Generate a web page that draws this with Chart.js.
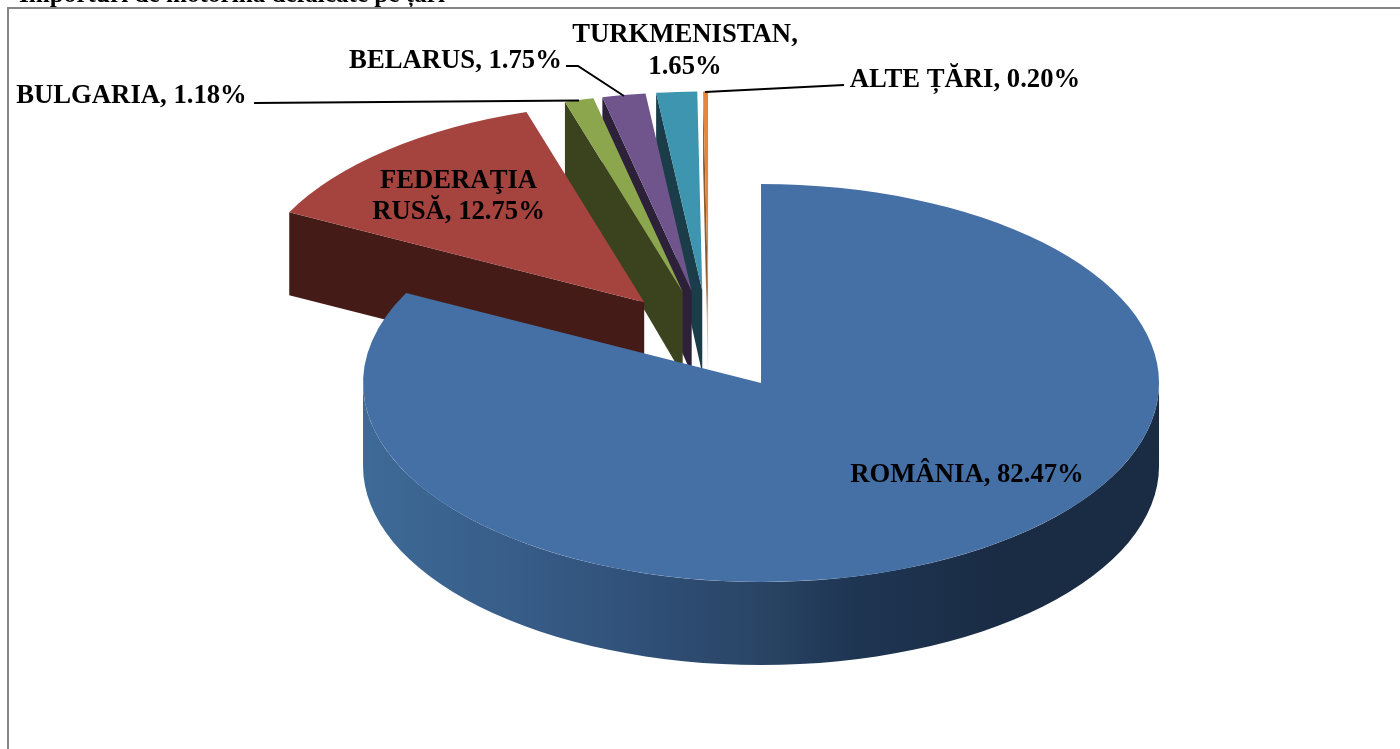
<!DOCTYPE html>
<html><head><meta charset="utf-8">
<style>html,body{margin:0;padding:0;background:#fff;overflow:hidden}canvas{display:block}</style>
<script src="https://cdn.jsdelivr.net/npm/chart.js@4"></script>
</head><body><canvas id="c" width="1400" height="749"></canvas>
<script>
const countries = ['ROMÂNIA','FEDERAŢIA RUSĂ','BULGARIA','BELARUS','TURKMENISTAN','ALTE ȚĂRI'];
const shares = [82.47,12.75,1.18,1.75,1.65,0.20];
const topColors = ['#4570A6','#A5433F','#8CA64E','#70548C','#3E95B0','#E2873C'];
const wallColors = ['#1A2C44','#451B17','#3A431D','#2D2039','#1B3D49','#8F5A2D'];
const blueWallStops = [[0,'#3E6A97'],[0.2,'#375C87'],[0.36,'#2F4F77'],[0.49,'#2A4566'],[0.62,'#1E3552'],[0.8,'#1A2C44'],[1,'#1A2C44']];
const titleText = 'Importuri de motorină defalcate pe țări';
const FONT = 'bold 26.7px "Liberation Serif"';
const TITLE_FONT = 'bold 25.2px "Liberation Serif"';
const EXPLODE = 100, SQUASH = 0.5, PIE_R = 398;
// label text layout: lines, x anchor (centre), baseline
const labelLayout = [
  {i:0, cx:967, ys:[482]},
  {i:1, split:true, cx:458.5, ys:[188,219]},
  {i:2, cx:131.5, ys:[103]},
  {i:3, cx:455.5, ys:[68]},
  {i:4, wrap:true, cx:685, ys:[42,74]},
  {i:5, cx:965, ys:[87]}
];
const leaders = [
  [[254,103],[579,100.5]],
  [[566,66],[578,66],[624,96]],
  [[844,85],[705,92]]
];
function depthAt(y){ return Math.min(83, 73 + Math.max(0,y-102)/11); }
const pie3d = {
  id:'pie3d',
  beforeDraw(chart){
    const ctx = chart.ctx;
    ctx.save();
    ctx.fillStyle='#fff'; ctx.fillRect(0,0,chart.width,chart.height);
    ctx.font=TITLE_FONT; ctx.fillStyle='#000'; ctx.textBaseline='alphabetic';
    ctx.fillText(titleText,19,1.5);
    ctx.strokeStyle='#868686'; ctx.lineWidth=2;
    ctx.beginPath(); ctx.moveTo(8,chart.height+2); ctx.lineTo(8,8); ctx.lineTo(chart.width+2,8); ctx.stroke();
    ctx.restore();
  },
  beforeDatasetsDraw(chart){
    const ctx = chart.ctx, arcs = chart.getDatasetMeta(0).data;
    for(let k=arcs.length-1;k>=0;k--){
      const el = arcs[k], a0=el.startAngle, a1=el.endAngle, mid=(a0+a1)/2, r=el.outerRadius;
      const ox = el.x + EXPLODE*Math.cos(mid), oy = el.y + SQUASH*EXPLODE*Math.sin(mid);
      ctx.save();
      ctx.fillStyle = wallColors[k];
      // radial wall at the start edge, visible when it faces the viewer
      if(Math.cos(a0) < -1e-6 && Math.sin(a0) < 1e-6 ){
        const px = ox + r*Math.cos(a0), py = oy + SQUASH*r*Math.sin(a0);
        if(k===arcs.length-1){
          const f = ctx.createLinearGradient(0,oy-20,0,oy+30);
          f.addColorStop(0,wallColors[k]); f.addColorStop(1,'#D0C4B8');
          ctx.fillStyle = f;
        }
        ctx.beginPath();
        ctx.moveTo(px,py); ctx.lineTo(ox,oy); ctx.lineTo(ox,oy+depthAt(oy)); ctx.lineTo(px,py+depthAt(py));
        ctx.closePath(); ctx.fill();
      }
      // rim wall along the front half of the ellipse
      const lo = Math.max(a0,0), hi = Math.min(a1,Math.PI);
      if(hi>lo){
        const d = depthAt(oy);
        const g = ctx.createLinearGradient(ox-r,0,ox+r,0);
        blueWallStops.forEach(s=>g.addColorStop(s[0],s[1]));
        ctx.fillStyle = g;
        ctx.beginPath();
        ctx.ellipse(ox,oy,r,r*SQUASH,0,lo,hi,false);
        ctx.ellipse(ox,oy+d,r,r*SQUASH,0,hi,lo,true);
        ctx.closePath(); ctx.fill();
      }
      // top face: the library's own arc, squashed and exploded
      ctx.translate(0,el.y); ctx.scale(1,SQUASH); ctx.translate(0,-el.y);
      ctx.translate(EXPLODE*Math.cos(mid),EXPLODE*Math.sin(mid));
      el.draw(ctx);
      ctx.restore();
    }
    return false;
  },
  afterDraw(chart){
    const ctx = chart.ctx;
    ctx.save();
    ctx.strokeStyle='#000'; ctx.lineWidth=2;
    leaders.forEach(l=>{ctx.beginPath();l.forEach((p,i)=>i?ctx.lineTo(p[0],p[1]):ctx.moveTo(p[0],p[1]));ctx.stroke();});
    ctx.font=FONT; ctx.fillStyle='#000'; ctx.textAlign='center'; ctx.textBaseline='alphabetic';
    labelLayout.forEach(l=>{
      const pct = shares[l.i].toFixed(2)+'%';
      let lines=[countries[l.i]+', '+pct];
      if(l.split){ const w=countries[l.i].split(' '); lines=[w[0], w[1]+', '+pct]; }
      if(l.wrap) lines=[countries[l.i]+',', pct];
      lines.forEach((s,j)=>ctx.fillText(s,l.cx,l.ys[j]));
    });
    ctx.restore();
  }
};
new Chart(document.getElementById('c'),{
  type:'pie',
  data:{labels:countries,datasets:[{data:shares,backgroundColor:topColors,borderWidth:0}]},
  options:{
    responsive:false,animation:false,radius:PIE_R,
    layout:{padding:{left:17.4,bottom:68.2}},
    plugins:{legend:{display:false},tooltip:{enabled:false}}
  },
  plugins:[pie3d]
});
</script></body></html>
